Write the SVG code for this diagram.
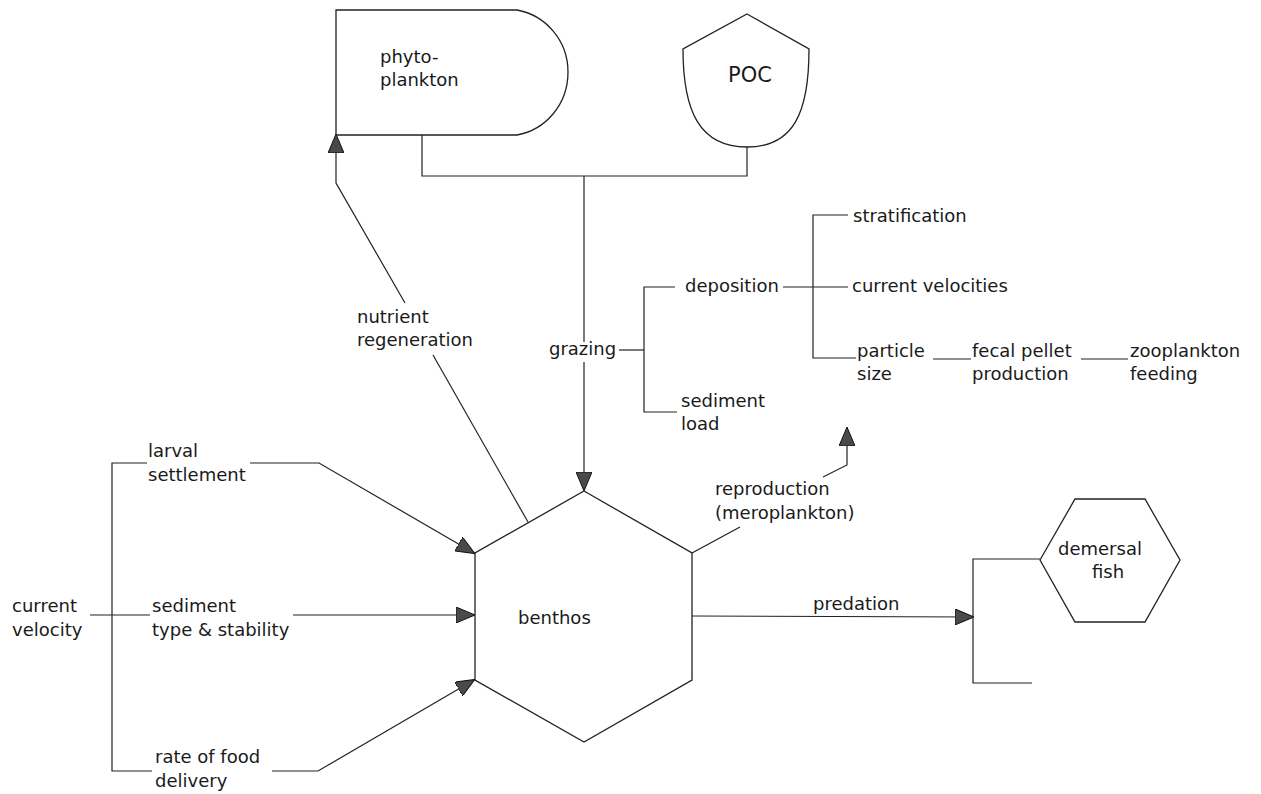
<svg xmlns="http://www.w3.org/2000/svg" width="1261" height="794" viewBox="0 0 1261 794">
  <defs>
    <style>
      .shape { fill: #ffffff; stroke: #222; stroke-width: 1.3; }
      .line { fill: none; stroke: #222; stroke-width: 1.2; }
      text { font-family: "DejaVu Sans", "Liberation Sans", sans-serif; font-size: 18px; fill: #1a1a1a; }
      .big { font-size: 21px; }
    </style>
    <marker id="arrow" viewBox="0 0 19 16" markerWidth="19" markerHeight="16" refX="18" refY="8" orient="auto" markerUnits="userSpaceOnUse">
      <path d="M0,0 L19,8 L0,16 Z" fill="#4a4a4a" stroke="#111" stroke-width="1"/>
    </marker>
  </defs>
  <rect width="1261" height="794" fill="#ffffff"/>

  <!-- connectors -->
  <g id="connectors">
    <!-- phytoplankton / POC merge into grazing -->
    <path class="line" d="M422,135 V176 H747 V147"/>
    <path class="line" d="M584,176 V342"/>
    <path class="line" d="M584,362 V490" marker-end="url(#arrow)"/>
    <!-- grazing factors -->
    <path class="line" d="M619,350 H644"/>
    <path class="line" d="M675,287 H644 V412 H677"/>
    <path class="line" d="M783,287 H848"/>
    <path class="line" d="M848,215 H813 V358 H856"/>
    <path class="line" d="M933,359 H971"/>
    <path class="line" d="M1081,359 H1128"/>
    <!-- nutrient regeneration back to phytoplankton -->
    <path class="line" d="M528,522 L433,355"/>
    <path class="line" d="M405,303 L336,183 V135" marker-end="url(#arrow)"/>
    <!-- reproduction -->
    <path class="line" d="M692,553 L740,527"/>
    <path class="line" d="M823,477 L847,465 V428" marker-end="url(#arrow)"/>
    <!-- current velocity inputs -->
    <path class="line" d="M147,463 H112 V771 H152"/>
    <path class="line" d="M90,615 H150"/>
    <path class="line" d="M250,463 H319 L474,553" marker-end="url(#arrow)"/>
    <path class="line" d="M293,615 H474" marker-end="url(#arrow)"/>
    <path class="line" d="M272,771 H318 L474,680" marker-end="url(#arrow)"/>
    <!-- predation -->
    <path class="line" d="M692,616 L973,617" marker-end="url(#arrow)"/>
    <path class="line" d="M1040,559 H973 V683 H1032"/>
  </g>

  <!-- nodes -->
  <g id="phytoplankton">
    <path class="shape" d="M336,10 H517 C545,15 568,40 568,72 C568,105 545,130 517,135 H336 Z"/>
    <text x="380" y="63">phyto-</text>
    <text x="380" y="86">plankton</text>
  </g>

  <g id="poc">
    <path class="shape" d="M747,14 L809,49 C809,112 794,147 747,147 C700,147 683,112 683,49 Z"/>
    <text class="big" x="750" y="82" text-anchor="middle">POC</text>
  </g>

  <g id="benthos">
    <path class="shape" d="M584,491 L692,553 V680 L584,742 L475,680 V553 Z"/>
    <text x="518" y="624">benthos</text>
  </g>

  <g id="demersal-fish">
    <path class="shape" d="M1040,560 L1075,499 H1145 L1180,560 L1145,622 H1075 Z"/>
    <text x="1058" y="555">demersal</text>
    <text x="1092" y="578">fish</text>
  </g>

  <g id="labels">
    <text x="549" y="355">grazing</text>
    <text x="357" y="323">nutrient</text>
    <text x="357" y="346">regeneration</text>
    <text x="685" y="292">deposition</text>
    <text x="681" y="407">sediment</text>
    <text x="681" y="430">load</text>
    <text x="853" y="222">stratification</text>
    <text x="852" y="292">current velocities</text>
    <text x="857" y="357">particle</text>
    <text x="857" y="380">size</text>
    <text x="972" y="357">fecal pellet</text>
    <text x="972" y="380">production</text>
    <text x="1130" y="357">zooplankton</text>
    <text x="1130" y="380">feeding</text>
    <text x="715" y="495">reproduction</text>
    <text x="715" y="519">(meroplankton)</text>
    <text x="148" y="457">larval</text>
    <text x="148" y="481">settlement</text>
    <text x="12" y="612">current</text>
    <text x="12" y="636">velocity</text>
    <text x="152" y="612">sediment</text>
    <text x="152" y="636">type &amp; stability</text>
    <text x="155" y="763">rate of food</text>
    <text x="155" y="787">delivery</text>
    <text x="813" y="610">predation</text>
  </g>
</svg>
